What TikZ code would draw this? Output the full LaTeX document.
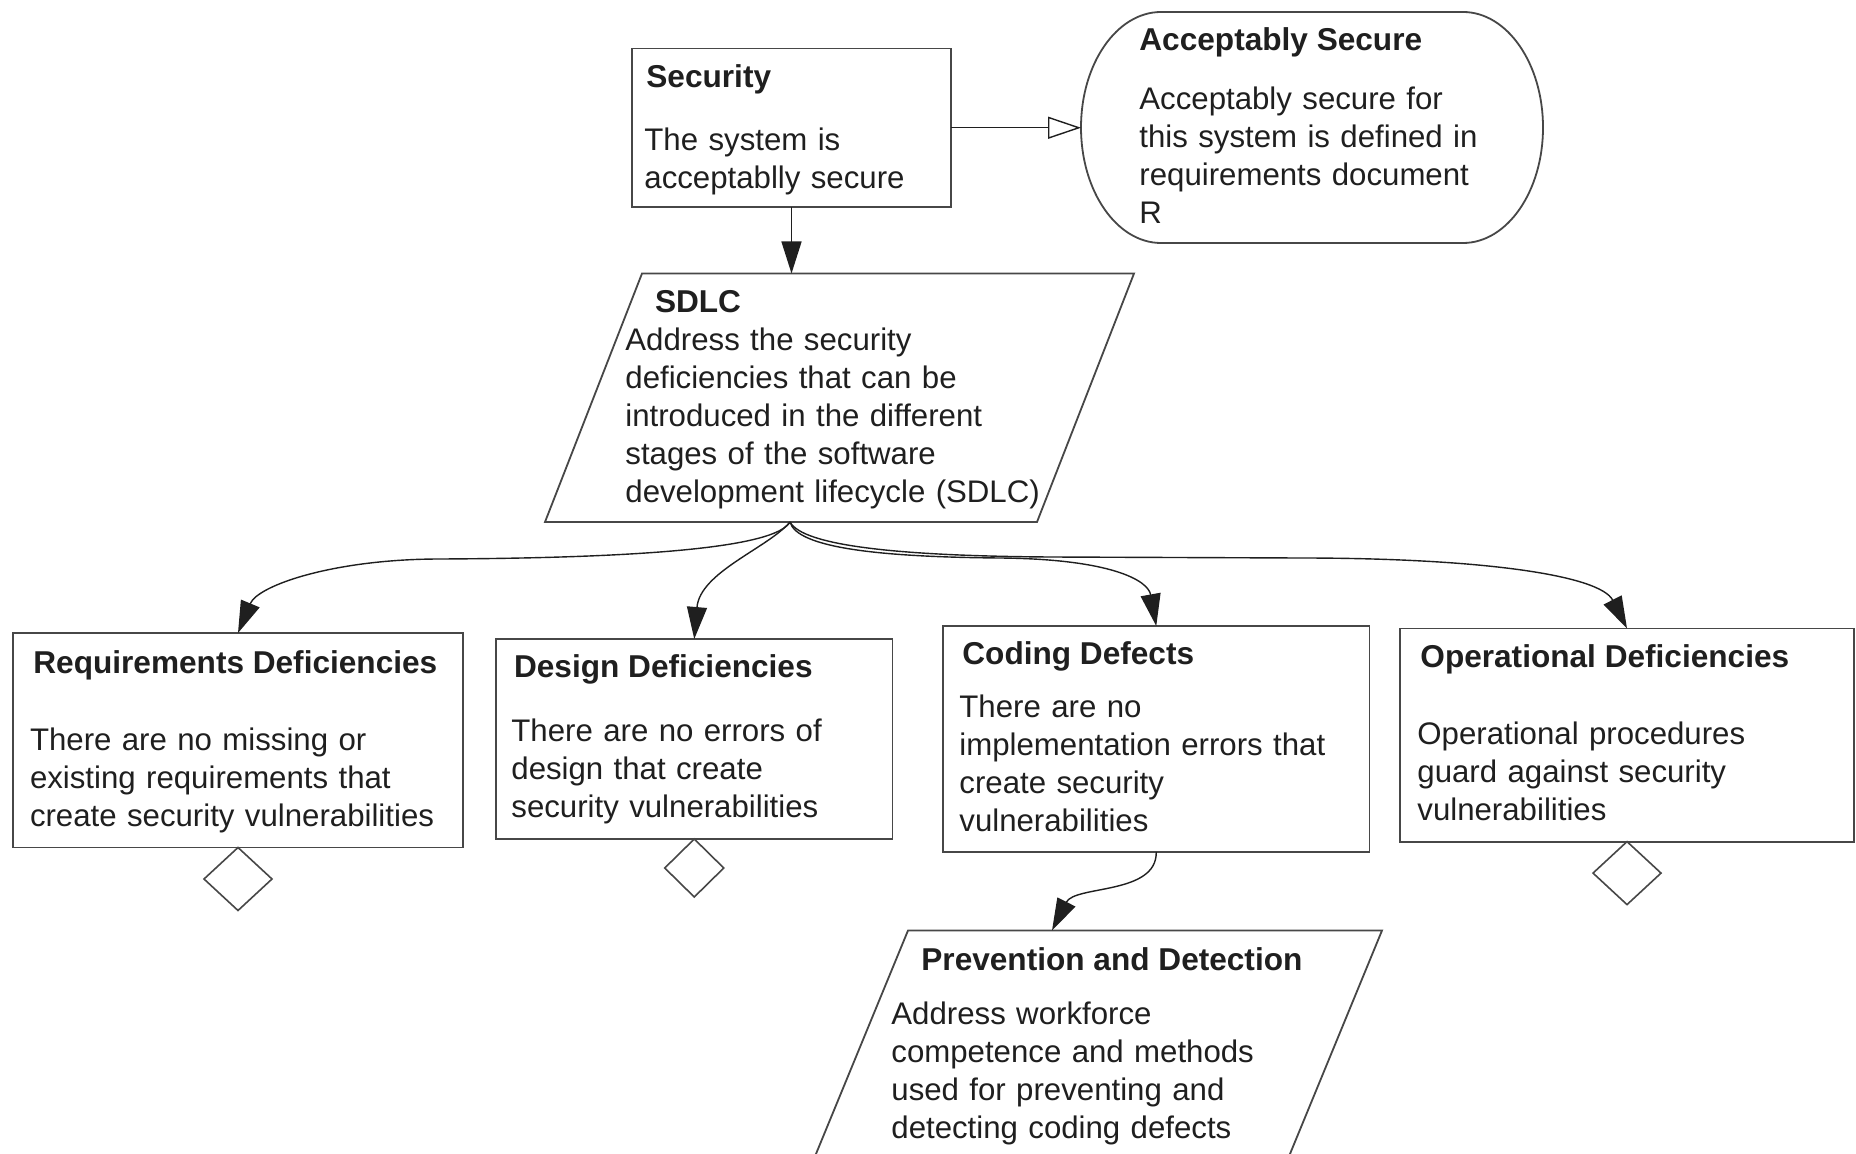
\documentclass[tikz,border=0pt]{standalone}
\usepackage{fontspec}
\setmainfont{Liberation Sans}
\usetikzlibrary{arrows.meta,shapes.geometric,fit}
\begin{document}
\begin{tikzpicture}[x=0.5pt,y=0.5pt,
  box/.style={draw=black!72, line width=0.9pt, inner sep=0pt, outer sep=0pt},
  gem/.style={draw=black!72, line width=0.8pt, diamond, inner sep=0pt, outer sep=0pt},
  conn/.style={draw=black!88, line width=0.7pt},
  solidtip/.style={conn, -{Triangle[length=16pt,width=10pt]}},
  hollowtip/.style={conn, -{Triangle[open,length=16.5pt,width=11pt,fill=white]}},
  head/.style={anchor=base west, inner sep=0pt, font=\fontsize{15.8}{19}\selectfont\bfseries, text=black!88},
  body/.style={anchor=base west, inner sep=0pt, align=left, text width=260pt, font=\fontsize{15.6}{19}\selectfont, text=black!88},
]
\clip (0,0) rectangle (1856,-1154);
\fill[white] (0,0) rectangle (1856,-1154);

% top goal and its context
\node[box, fit={(632,-48.5) (951,-207)}] (sec) {};
\node[inner sep=0pt, outer sep=0pt, fit={(1081,-12) (1543,-243)}] (acc) {};
\draw[box] (1161,-12) -- (1463,-12)
  arc[start angle=90, end angle=-90, x radius=80, y radius=115.5]
  -- (1161,-243)
  arc[start angle=270, end angle=90, x radius=80, y radius=115.5] -- cycle;

% strategy (parallelogram)
\node[inner sep=0pt, outer sep=0pt, fit={(545,-273.5) (1134,-522)}] (sdlc) {};
\draw[box] (642,-273.5) -- (1134,-273.5) -- (1037,-522) -- (545,-522) -- cycle;

% sub-goals
\node[box, fit={(13,-633) (463,-847.5)}] (req) {};
\node[box, fit={(496,-639) (892.5,-839)}] (des) {};
\node[box, fit={(943,-626) (1369.5,-852)}] (cod) {};
\node[box, fit={(1400,-628.5) (1854,-841.6)}] (ope) {};

% undeveloped markers
\node[gem, minimum width=34pt, minimum height=31.5pt, anchor=north] (reqd) at (req.south) {};
\node[gem, minimum width=29.5pt, minimum height=29pt, anchor=north] (desd) at (des.south) {};
\node[gem, minimum width=34pt, minimum height=31.5pt, anchor=north] (oped) at (ope.south) {};

% lower strategy (parallelogram running past the bottom edge)
\node[inner sep=0pt, outer sep=0pt, fit={(797,-930.5) (1382,-1200)}] (prev) {};
\draw[box] (908,-930.5) -- (1382,-930.5) -- (1271,-1200) -- (797,-1200) -- cycle;

% texts
\node[head] (secT) at (646,-88) {Security};
\node[body] (secB) at (644,-151) {The system is\\acceptablly secure};
\node[head] (accT) at (1139,-51) {Acceptably Secure};
\node[body] (accB) at (1139,-109.5) {Acceptably secure for\\this system is defined in\\requirements document\\R};
\node[head] (sdlT) at (654.6,-313) {SDLC};
\node[body] (sdlB) at (625,-351) {Address the security\\deficiencies that can be\\introduced in the different\\stages of the software\\development lifecycle (SDLC)};
\node[head] (reqT) at (33,-673) {Requirements Deficiencies};
\node[body] (reqB) at (29.6,-750) {There are no missing or\\existing requirements that\\create security vulnerabilities};
\node[head] (desT) at (513.7,-677.5) {Design Deficiencies};
\node[body] (desB) at (511,-741.5) {There are no errors of\\design that create\\security vulnerabilities};
\node[head] (codT) at (962,-664.5) {Coding Defects};
\node[body] (codB) at (959,-717) {There are no\\implementation errors that\\create security\\vulnerabilities};
\node[head] (opeT) at (1420,-667) {Operational Deficiencies};
\node[body] (opeB) at (1417,-744) {Operational procedures\\guard against security\\vulnerabilities};
\node[head] (prvT) at (921,-970) {Prevention and Detection};
\node[body] (prvB) at (891,-1024.5) {Address workforce\\competence and methods\\used for preventing and\\detecting coding defects};

% connectors
\coordinate (br) at (790,-522);
\coordinate (prvtop) at (1052,-930.5);
\draw[hollowtip] (sec.east) -- (sec.east -| acc.west);
\draw[solidtip] (sec.south) -- (sec.south |- sdlc.north);
\draw[solidtip] (br) .. controls (775,-548) and (640,-558) .. (440,-559)
  .. controls (335,-559) and (258,-585) .. (req.north);
\draw[solidtip] (br) .. controls (768,-548) and (700,-572) .. (des.north);
\draw[solidtip] (br) .. controls (797,-548) and (880,-557) .. (1000,-558)
  .. controls (1110,-559) and (1148,-580) .. (cod.north);
\draw[solidtip] (br) .. controls (803,-546) and (900,-556) .. (1050,-557) -- (1300,-558)
  .. controls (1480,-558) and (1600,-575) .. (ope.north);
\draw[solidtip] (cod.south) .. controls (1157,-895) and (1075,-885) .. (prvtop);
\end{tikzpicture}
\end{document}
